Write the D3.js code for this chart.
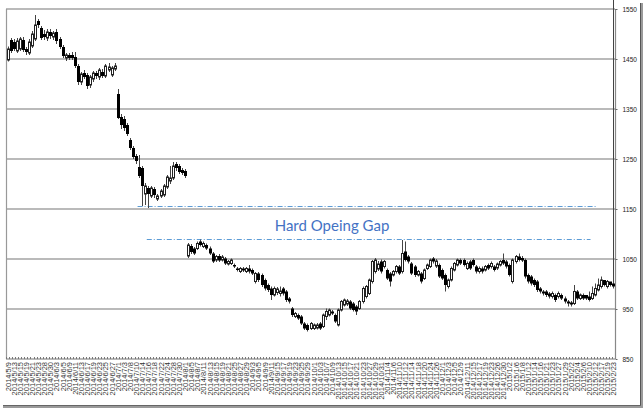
<!DOCTYPE html>
<html><head><meta charset="utf-8">
<script src="https://cdn.jsdelivr.net/npm/d3@7"></script>
<style>html,body{margin:0;padding:0;background:#fff;}svg{display:block;}</style>
</head><body>
<svg id="c" width="644" height="409"></svg>
<script>
const dates = [
"2014/5/9","2014/5/12","2014/5/13","2014/5/14","2014/5/15","2014/5/16","2014/5/19","2014/5/20","2014/5/21","2014/5/22","2014/5/23","2014/5/27","2014/5/28","2014/5/29","2014/5/30",
"2014/6/2","2014/6/3","2014/6/4","2014/6/5","2014/6/6","2014/6/9","2014/6/10","2014/6/11","2014/6/12","2014/6/13","2014/6/16","2014/6/17","2014/6/18","2014/6/19","2014/6/20","2014/6/23","2014/6/24","2014/6/25","2014/6/26","2014/6/27","2014/6/30",
"2014/7/1","2014/7/2","2014/7/3","2014/7/7","2014/7/8","2014/7/9","2014/7/10","2014/7/11","2014/7/14","2014/7/15","2014/7/16","2014/7/17","2014/7/18","2014/7/21","2014/7/22","2014/7/23","2014/7/24","2014/7/25","2014/7/28","2014/7/29","2014/7/30","2014/7/31",
"2014/8/1","2014/8/4","2014/8/5","2014/8/6","2014/8/7","2014/8/8","2014/8/11","2014/8/12","2014/8/13","2014/8/14","2014/8/15","2014/8/18","2014/8/19","2014/8/20","2014/8/21","2014/8/22","2014/8/25","2014/8/26","2014/8/27","2014/8/28","2014/8/29",
"2014/9/2","2014/9/3","2014/9/4","2014/9/5","2014/9/8","2014/9/9","2014/9/10","2014/9/11","2014/9/12","2014/9/15","2014/9/16","2014/9/17","2014/9/18","2014/9/19","2014/9/22","2014/9/23","2014/9/24","2014/9/25","2014/9/26","2014/9/29","2014/9/30",
"2014/10/1","2014/10/2","2014/10/3","2014/10/6","2014/10/7","2014/10/8","2014/10/9","2014/10/10","2014/10/13","2014/10/14","2014/10/15","2014/10/16","2014/10/17","2014/10/20","2014/10/21","2014/10/22","2014/10/23","2014/10/24","2014/10/27","2014/10/28","2014/10/29","2014/10/30","2014/10/31",
"2014/11/3","2014/11/4","2014/11/5","2014/11/6","2014/11/7","2014/11/10","2014/11/11","2014/11/12","2014/11/13","2014/11/14","2014/11/17","2014/11/18","2014/11/19","2014/11/20","2014/11/21","2014/11/24","2014/11/25","2014/11/26","2014/11/28",
"2014/12/1","2014/12/2","2014/12/3","2014/12/4","2014/12/5","2014/12/8","2014/12/9","2014/12/10","2014/12/11","2014/12/12","2014/12/15","2014/12/16","2014/12/17","2014/12/18","2014/12/19","2014/12/22","2014/12/23","2014/12/24","2014/12/26","2014/12/29","2014/12/30","2014/12/31",
"2015/1/2","2015/1/5","2015/1/6","2015/1/7","2015/1/8","2015/1/9","2015/1/12","2015/1/13","2015/1/14","2015/1/15","2015/1/16","2015/1/20","2015/1/21","2015/1/22","2015/1/23","2015/1/26","2015/1/27","2015/1/28","2015/1/29","2015/1/30",
"2015/2/2","2015/2/3","2015/2/4","2015/2/5","2015/2/6","2015/2/9","2015/2/10","2015/2/11","2015/2/12","2015/2/13","2015/2/17","2015/2/18","2015/2/19","2015/2/20","2015/2/23"
];
const open = [
1448,1488,1484,1466,1470,1488,1470,1462,1476,1490,1526,1512,1500,1492,1504,1494,1504,1490,1474,1452,1458,1458,1454,1436,1404,1422,1418,1398,1410,1422,1414,1424,1416,1428,1418,1430,
1380,1334,1330,1318,1288,1272,1256,1234,1232,1180,1192,1176,1190,1170,1176,1178,1194,1206,1212,1240,1236,1228,1226,
1056,1076,1071,1071,1085,1075,1078,1071,1061,1048,1056,1048,1051,1040,1041,1038,1031,1025,1031,1025,1031,1028,1005,1021,1018,1008,998,991,978,983,981,991,985,971,951,935,938,935,921,918,911,911,912,921,915,935,938,945,938,918,948,958,960,965,961,955,951,965,975,981,1005,1025,1030,1045,1035,1028,1021,1018,1025,1035,1025,1065,1055,1041,1035,1018,1021,1011,1031,1035,1051,1036,1038,1028,1018,995,1008,1028,1038,1048,1048,1031,1045,1048,1035,1025,1031,1028,1038,1035,1035,1032,1038,1048,1045,1038,1005,1045,1055,1052,1048,1018,1015,1008,1005,991,985,985,981,975,978,975,978,971,965,963,961,985,971,978,978,975,971,978,988,995,1008,995,1005,1001
];
const high = [
1475,1492,1490,1492,1494,1494,1474,1490,1506,1538,1530,1516,1508,1510,1510,1506,1510,1494,1478,1462,1462,1464,1464,1440,1424,1428,1422,1418,1426,1426,1432,1430,1440,1442,1436,1442,
1390,1340,1336,1322,1292,1276,1260,1258,1236,1202,1196,1196,1194,1180,1190,1200,1218,1236,1244,1244,1240,1232,1230,
1082,1080,1074,1085,1089,1085,1081,1075,1064,1058,1060,1058,1054,1048,1051,1041,1034,1034,1034,1034,1038,1031,1024,1024,1021,1011,1001,995,995,994,995,994,988,974,954,944,941,938,924,921,924,921,922,924,941,951,951,948,941,951,968,971,970,968,964,958,968,995,998,1011,1048,1052,1046,1049,1048,1031,1024,1028,1038,1038,1088,1085,1058,1044,1038,1028,1024,1031,1041,1051,1054,1050,1041,1031,1021,1011,1035,1044,1051,1051,1051,1045,1048,1051,1038,1035,1035,1038,1041,1045,1038,1043,1048,1061,1048,1041,1051,1058,1061,1056,1051,1021,1018,1011,1008,994,988,988,984,985,981,985,981,975,968,966,998,988,981,981,978,985,995,1001,1011,1015,1008,1008,1004
];
const low = [
1445,1462,1466,1462,1466,1464,1458,1458,1472,1486,1512,1488,1488,1486,1490,1488,1480,1470,1452,1446,1448,1448,1432,1398,1398,1410,1390,1392,1404,1410,1408,1412,1412,1424,1414,1426,
1330,1310,1306,1296,1268,1250,1240,1212,1156,1158,1152,1172,1172,1166,1172,1174,1190,1200,1208,1226,1220,1218,1212,
1052,1060,1058,1068,1075,1072,1068,1058,1042,1044,1044,1045,1038,1037,1038,1032,1025,1022,1024,1022,1021,1018,1001,1004,994,987,984,968,975,978,975,977,964,961,934,932,928,918,908,905,908,908,909,908,912,928,935,938,922,915,945,955,956,948,945,938,948,961,971,978,1001,1021,1026,1021,1031,1008,995,1015,1021,1018,1021,1045,1041,1018,1014,1015,1001,1008,1028,1032,1041,1032,1012,1008,985,991,1005,1025,1035,1038,1035,1028,1028,1035,1021,1021,1021,1025,1028,1031,1025,1028,1035,1038,1031,1015,1001,1041,1045,1044,1011,1001,997,994,984,981,977,974,971,971,964,971,968,961,955,955,958,968,968,968,968,965,968,975,985,991,995,991,995,991
];
const close = [
1470,1466,1470,1486,1490,1468,1464,1484,1500,1518,1518,1492,1494,1504,1496,1502,1486,1474,1456,1458,1452,1452,1436,1404,1420,1414,1396,1414,1422,1416,1428,1416,1436,1434,1432,1436,
1332,1318,1312,1300,1272,1254,1246,1216,1196,1196,1180,1192,1178,1176,1186,1196,1214,1212,1236,1232,1224,1222,1216,
1078,1064,1061,1081,1078,1081,1071,1061,1045,1055,1047,1054,1041,1045,1048,1035,1028,1031,1027,1031,1025,1021,1021,1008,998,991,988,978,991,990,986,981,968,965,938,941,931,921,911,908,921,918,918,911,938,945,948,941,925,948,965,968,966,951,948,945,965,991,995,1008,1045,1048,1040,1025,1045,1011,1005,1025,1035,1021,1061,1048,1045,1021,1018,1025,1005,1028,1038,1048,1045,1046,1015,1011,998,1008,1031,1041,1048,1041,1038,1041,1031,1038,1025,1031,1025,1035,1031,1041,1028,1040,1045,1041,1035,1018,1048,1055,1048,1047,1015,1005,1001,998,988,985,981,978,975,981,968,981,971,965,961,959,985,971,978,971,971,968,981,991,998,1008,998,1005,998,995
];
const yTicks = [850, 950, 1050, 1150, 1250, 1350, 1450, 1550];
const gapLevels = [1155, 1089];
const gapFrom = ["2014/7/11", "2014/7/16"];
const gapTo = ["2015/2/13", "2015/2/11"];
const gapLabel = "Hard Opeing Gap";
const gapLabelAt = "2014/10/9";

const svg = d3.select("#c");
const L = 6, R = 615, T = 9, B = 359;
const x = d3.scaleBand().domain(dates).range([L, R]).padding(0);
const y = d3.scaleLinear().domain([850, 1550]).range([B, T]);
const cx = d => Math.round(x(d) + x.bandwidth() / 2);

// shadow
svg.append("rect").attr("x", 640).attr("y", 3).attr("width", 3).attr("height", 405).attr("fill", "#9a9a9a");
svg.append("rect").attr("x", 3).attr("y", 405).attr("width", 640).attr("height", 3).attr("fill", "#9a9a9a");
svg.append("rect").attr("x", 640).attr("y", 3).attr("width", 1).attr("height", 403).attr("fill", "#555");
svg.append("rect").attr("x", 3).attr("y", 405).attr("width", 638).attr("height", 1).attr("fill", "#666");

// grid lines
svg.append("g").selectAll("line").data(yTicks).join("line")
  .attr("x1", L).attr("x2", R).attr("y1", d => y(d)).attr("y2", d => y(d))
  .attr("stroke", "#a3a3a3").attr("stroke-width", 1.4);
// frame sides
svg.append("line").attr("x1", L + 0.5).attr("x2", L + 0.5).attr("y1", T).attr("y2", B).attr("stroke", "#999").attr("stroke-width", 1.2);
svg.append("line").attr("x1", R + 0.5).attr("x2", R + 0.5).attr("y1", T).attr("y2", B).attr("stroke", "#888").attr("stroke-width", 1.2);

// right axis
const yAxis = d3.axisRight(y).tickValues(yTicks).tickSize(2).tickPadding(5).tickFormat(d3.format("d"));
const ga = svg.append("g").attr("transform", `translate(${R + 0.5},0)`).call(yAxis);
ga.select(".domain").remove();
ga.selectAll(".tick line").attr("stroke", "#666");
ga.selectAll("text").attr("font-family", "Liberation Sans, Arial, sans-serif").attr("font-size", "6.5px").attr("fill", "#222");

// bottom ticks
svg.append("g").selectAll("line").data(dates).join("line")
  .attr("x1", d => Math.round(x(d)) + 0.5).attr("x2", d => Math.round(x(d)) + 0.5)
  .attr("y1", B - 2).attr("y2", B).attr("stroke", "#777").attr("stroke-width", 1);

// bottom labels (every other day)
const labeled = dates.filter((d, i) => i % 2 === 0);
svg.append("g").selectAll("text").data(labeled).join("text")
  .attr("transform", d => `translate(${cx(d) + 3},362) rotate(-90)`)
  .attr("text-anchor", "end")
  .attr("font-family", "Liberation Sans, Arial, sans-serif")
  .attr("font-size", "7.5px").attr("fill", "#333")
  .text(d => d);

// gap annotation lines
svg.append("g").selectAll("line").data(gapLevels).join("line")
  .attr("x1", (d, i) => x(gapFrom[i])).attr("x2", (d, i) => x(gapTo[i]))
  .attr("y1", d => y(d)).attr("y2", d => y(d))
  .attr("stroke", "#5b9bd5").attr("stroke-width", 1)
  .attr("stroke-dasharray", "5,2,1,2");

svg.append("text")
  .attr("x", cx(gapLabelAt)).attr("y", y((gapLevels[0] + gapLevels[1]) / 2) + 8)
  .attr("text-anchor", "middle")
  .attr("font-family", "Lato, sans-serif").attr("font-size", "15px")
  .attr("fill", "#4472c4").text(gapLabel);

// candles
const data = dates.map((d, i) => ({ d, o: open[i], h: high[i], l: low[i], c: close[i] }));
const g = svg.append("g");
g.selectAll("line.w").data(data).join("line").attr("class", "w")
  .attr("x1", d => cx(d.d) + 0.5).attr("x2", d => cx(d.d) + 0.5)
  .attr("y1", d => y(d.h)).attr("y2", d => y(d.l))
  .attr("stroke", "#444").attr("stroke-width", 1);
g.selectAll("rect.b").data(data).join("rect").attr("class", "b")
  .each(function(d) {
    const top = y(Math.max(d.o, d.c)), bot = y(Math.min(d.o, d.c));
    const el = d3.select(this);
    if (d.c < d.o) {
      el.attr("x", cx(d.d) - 1).attr("width", 3)
        .attr("y", top).attr("height", Math.max(1, bot - top))
        .attr("fill", "#000");
    } else {
      el.attr("x", cx(d.d) - 0.5).attr("width", 2)
        .attr("y", top).attr("height", Math.max(1, bot - top))
        .attr("fill", "#fff").attr("stroke", "#222").attr("stroke-width", 1);
    }
  });
</script>
</body></html>
